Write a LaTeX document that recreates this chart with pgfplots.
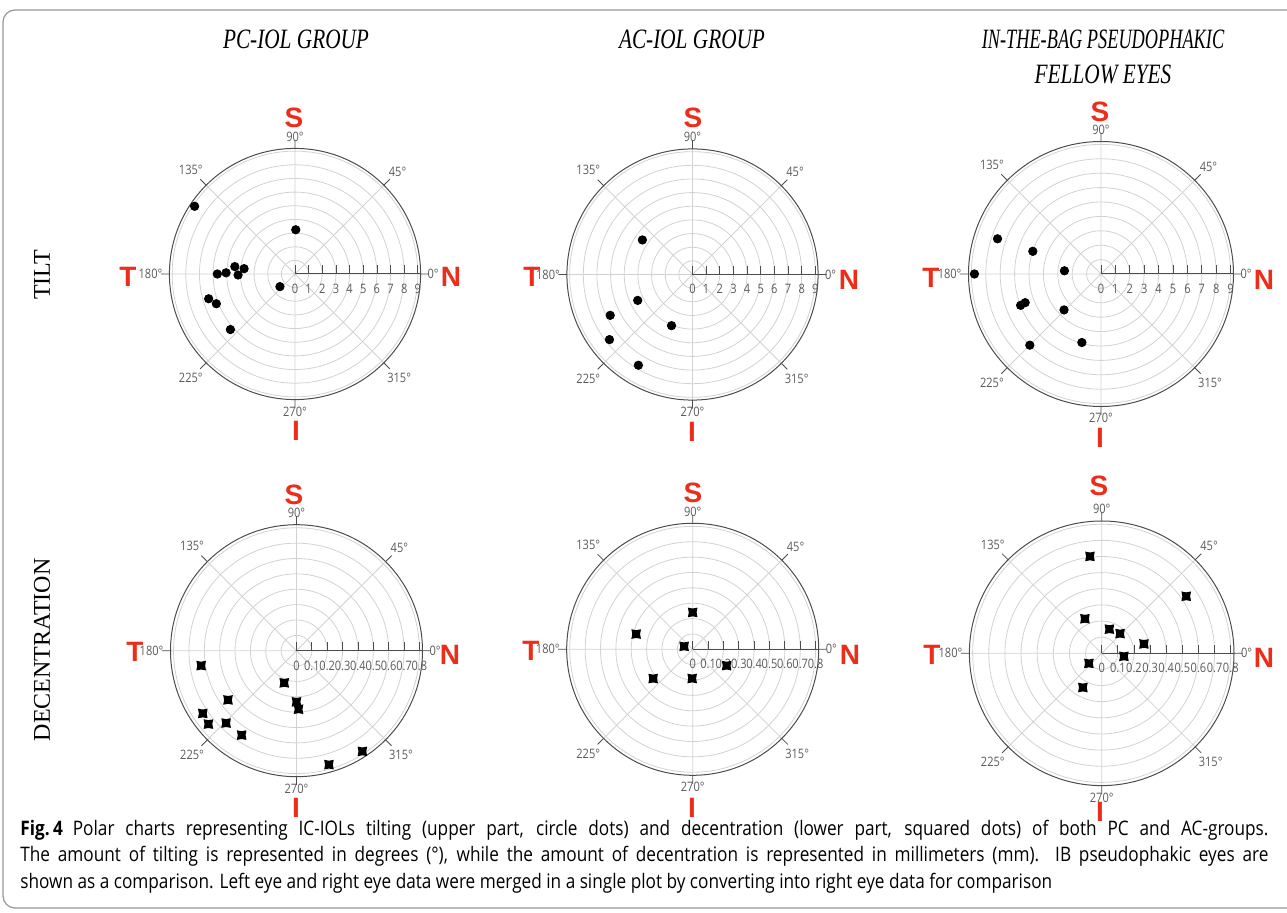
\documentclass[border=0pt]{standalone}
\usepackage{pgfplots}
\pgfplotsset{compat=1.18}
\usepgfplotslibrary{polar}
\usepackage{fontspec}
\setmainfont{Liberation Serif}
\newfontfamily\labfont[FakeStretch=0.85]{Open Sans}
\newfontfamily\capfont[FakeStretch=0.86]{Open Sans}
\newfontfamily\titfont[FakeStretch=0.76]{Liberation Serif}
\newfontfamily\redfont{Liberation Sans}
\definecolor{redl}{RGB}{235,45,25}
\definecolor{labgray}{RGB}{90,90,90}
\definecolor{capgray}{RGB}{150,150,150}

\pgfdeclareplotmark{cstar}{%
  \pgfpathmoveto{\pgfqpoint{\pgfplotmarksize}{\pgfplotmarksize}}%
  \pgfpathcurveto{\pgfqpoint{0.4\pgfplotmarksize}{0.75\pgfplotmarksize}}{\pgfqpoint{-0.4\pgfplotmarksize}{0.75\pgfplotmarksize}}{\pgfqpoint{-\pgfplotmarksize}{\pgfplotmarksize}}%
  \pgfpathcurveto{\pgfqpoint{-0.75\pgfplotmarksize}{0.4\pgfplotmarksize}}{\pgfqpoint{-0.75\pgfplotmarksize}{-0.4\pgfplotmarksize}}{\pgfqpoint{-\pgfplotmarksize}{-\pgfplotmarksize}}%
  \pgfpathcurveto{\pgfqpoint{-0.4\pgfplotmarksize}{-0.75\pgfplotmarksize}}{\pgfqpoint{0.4\pgfplotmarksize}{-0.75\pgfplotmarksize}}{\pgfqpoint{\pgfplotmarksize}{-\pgfplotmarksize}}%
  \pgfpathcurveto{\pgfqpoint{0.75\pgfplotmarksize}{-0.4\pgfplotmarksize}}{\pgfqpoint{0.75\pgfplotmarksize}{0.4\pgfplotmarksize}}{\pgfqpoint{\pgfplotmarksize}{\pgfplotmarksize}}%
  \pgfpathclose
  \pgfusepathqfill
}

\pgfplotsset{
  mypolar/.style={
    scale only axis, width=#1, height=#1, anchor=center,
    xmin=0, xmax=360, xtick={0,45,...,315},
    /pgf/number format/assume math mode=true,
    xticklabel={\pgfmathprintnumber{\tick}°},
    ticklabel style={font=\labfont\fontsize{6.5}{7}\selectfont, text=labgray},
    yticklabel style={anchor=north, yshift=-1.5pt},
    grid=major, major grid style={gray!35, line width=0.4pt},
    axis line style={gray!60!black, line width=0.5pt},
    tick style={gray!60!black, line width=0.4pt},
    ymin=0,
  },
  tilt/.style={mypolar=#1, ymax=9.2, ytick={0,1,2,3,4,5,6,7,8,9}},
  dec/.style={mypolar=#1, ymax=0.82, ytick={0,0.1,0.2,0.3,0.4,0.5,0.6,0.7,0.8}},
  dots/.style={only marks, mark=*, mark size=2.1pt, black},
  sqs/.style={only marks, mark=cstar, mark size=2.4pt, black},
}

\newcommand{\redlab}[8]{%
  \node[inner sep=1pt, text=redl, font=\redfont\bfseries\fontsize{14}{14}\selectfont] at (#1,#2) {S};
  \node[inner sep=1pt, text=redl, font=\redfont\bfseries\fontsize{14}{14}\selectfont] at (#3,#4) {T};
  \node[inner sep=1pt, text=redl, font=\redfont\bfseries\fontsize{14}{14}\selectfont] at (#5,#6) {N};
  \node[inner sep=1pt, text=redl, font=\redfont\bfseries\fontsize{14}{14}\selectfont] at (#7,#8) {I};
}

\begin{document}
\begin{tikzpicture}[x=0.5pt,y=0.5pt]
\useasboundingbox (0,0) rectangle (1287,912);
\draw[capgray, line width=0.6pt, rounded corners=6pt] (3,4) rectangle (1310,902);

% titles
\node[anchor=base, font=\titfont\itshape\fontsize{14}{14}\selectfont] at (296,863) {PC-IOL GROUP};
\node[anchor=base, font=\titfont\itshape\fontsize{14}{14}\selectfont] at (692,863) {AC-IOL GROUP};
\node[anchor=base, xscale=0.86, font=\titfont\itshape\fontsize{14}{14}\selectfont] at (1103,863) {IN-THE-BAG PSEUDOPHAKIC};
\node[anchor=base, font=\titfont\itshape\fontsize{14}{14}\selectfont] at (1103,828) {FELLOW EYES};

% row labels
\node[rotate=90, font=\fontsize{12}{12}\selectfont] at (42,637) {TILT};
\node[rotate=90, font=\fontsize{12}{12}\selectfont] at (42,262) {DECENTRATION};

% ---- Tilt PC ----
\begin{polaraxis}[tilt=125.6pt, at={(147.5pt,319pt)}]
\addplot[gray!60!black, line width=0.5pt] coordinates {(0,0) (0,9.2)};
\addplot[dots] coordinates {(146,8.87) (89,3.24) (180,5.69) (179,5.05) (173,4.44) (174,3.75) (181,4.17) (220,1.44) (196,6.58) (200.7,6.16) (220.7,6.24)};
\end{polaraxis}
% ---- Tilt AC ----
\begin{polaraxis}[tilt=125.6pt, at={(346.25pt,318.75pt)}]
\addplot[gray!60!black, line width=0.5pt] coordinates {(0,0) (0,9.2)};
\addplot[dots] coordinates {(145.4,4.46) (205.3,4.44) (206.4,6.73) (247.7,4.05) (218.1,7.73) (239.2,7.74)};
\end{polaraxis}
% ---- Tilt IB ----
\begin{polaraxis}[tilt=132.5pt, at={(550.5pt,319pt)}]
\addplot[gray!60!black, line width=0.5pt] coordinates {(0,0) (0,9.2)};
\addplot[dots] coordinates {(161.2,7.59) (161.6,4.99) (180,8.79) (175,2.55) (201.3,5.99) (200.7,5.63) (224.2,3.58) (254.4,4.94) (225,6.99)};
\end{polaraxis}

% ---- Decentration PC ----
\begin{polaraxis}[dec=126pt, at={(148.25pt,130.65pt)}]
\addplot[gray!60!black, line width=0.5pt] coordinates {(0,0) (0,0.82)};
\addplot[sqs] coordinates {(188.9,0.628) (249.1,0.224) (215.7,0.549) (270,0.333) (272,0.381) (213.8,0.734) (219.8,0.746) (225.8,0.657) (237,0.655) (285.9,0.771) (303.2,0.783)};
\end{polaraxis}
% ---- Decentration AC ----
\begin{polaraxis}[dec=126pt, at={(346.35pt,131.35pt)}]
\addplot[gray!60!black, line width=0.5pt] coordinates {(0,0) (0,0.82)};
\addplot[sqs] coordinates {(90,0.24) (164.9,0.381) (161,0.059) (334.3,0.245) (216.5,0.32) (269,0.19)};
\end{polaraxis}
% ---- Decentration IB ----
\begin{polaraxis}[dec=132.3pt, at={(550.85pt,129.35pt)}]
\addplot[gray!60!black, line width=0.5pt] coordinates {(0,0) (0,0.82)};
\addplot[sqs] coordinates {(96.9,0.605) (34,0.632) (115.9,0.238) (72.3,0.157) (47,0.167) (12.5,0.268) (352.2,0.139) (218.3,0.101) (241.2,0.242)};
\end{polaraxis}

% red orientation letters
\redlab{294}{794}{128}{635}{451}{635}{296}{481}
\redlab{693}{794}{532}{635}{849}{632}{692}{480}
\redlab{1100}{800}{931}{634}{1264}{632}{1100}{474}
\redlab{294}{417}{135}{260}{450}{257}{296}{104}
\redlab{693}{419}{531}{261}{850}{257}{692}{104}
\redlab{1099}{426}{932}{257}{1264}{254}{1100}{100}

% caption
\node[anchor=base west, inner sep=0, font=\capfont\fontsize{10}{13}\selectfont] at (20,77) {\makebox[624pt][s]{\textbf{Fig.\,4}\hspace{0.5em}Polar charts representing IC-IOLs tilting (upper part, circle dots) and decentration (lower part, squared dots) of both PC and AC-groups.}};
\node[anchor=base west, inner sep=0, font=\capfont\fontsize{10}{13}\selectfont] at (20,50.5) {\makebox[624pt][s]{The amount of tilting is represented in degrees (°), while the amount of decentration is represented in millimeters (mm). IB pseudophakic eyes are}};
\node[anchor=base west, inner sep=0, font=\capfont\fontsize{10}{13}\selectfont] at (20,24) {shown as a comparison. Left eye and right eye data were merged in a single plot by converting into right eye data for comparison};
\end{tikzpicture}
\end{document}
